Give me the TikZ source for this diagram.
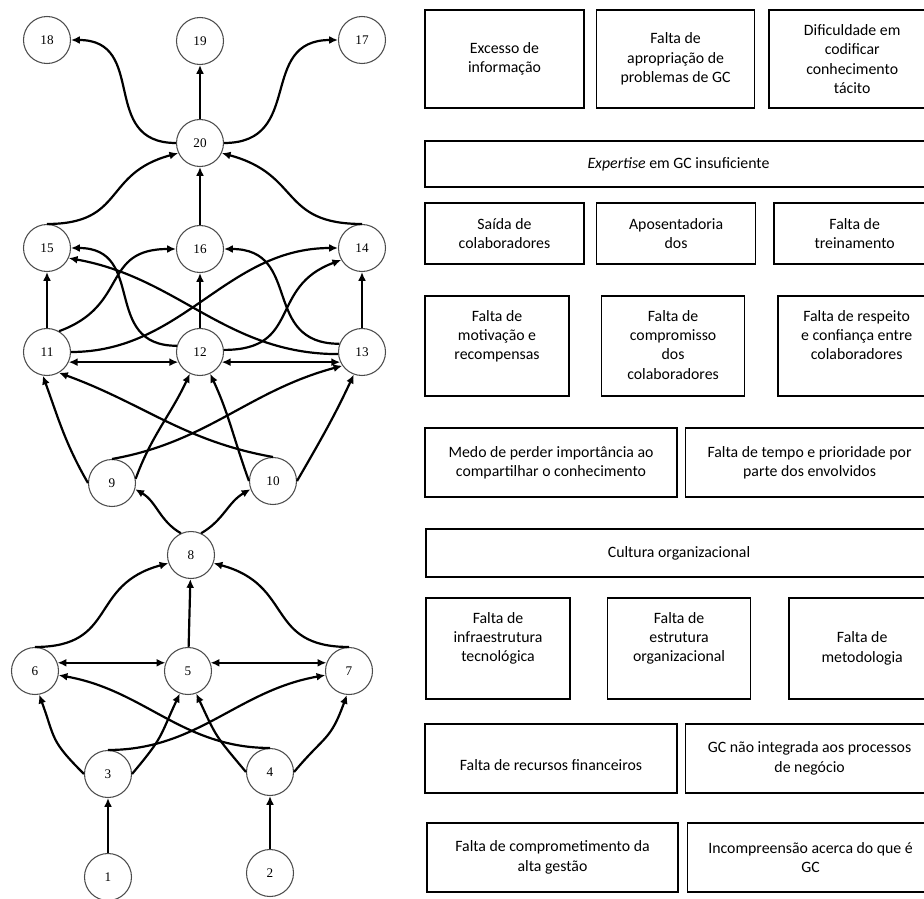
\documentclass[tikz,border=0pt]{standalone}
\usepackage{fontspec}
\setmainfont{Carlito}
\newfontfamily\numfont{Liberation Serif}
\usetikzlibrary{positioning, arrows.meta}

\begin{document}
\begin{tikzpicture}[
  numero/.style={circle, draw=black!70, line width=0.6pt, minimum size=0.94cm, inner sep=0pt, font=\numfont\fontsize{7.5}{8}\selectfont},
  seta/.style={-{Latex[length=5pt,width=4.5pt]}, line width=1.25pt},
  dupla/.style={{Latex[length=5pt,width=4.5pt]}-{Latex[length=5pt,width=4.5pt]}, line width=1.25pt},
  curva/.style={seta, looseness=1.35},
  causa/.style={draw, line width=0.9pt, align=center, inner sep=2pt, font=\fontsize{9}{11}\selectfont},
  topo/.style={label={[anchor=north, align=center, yshift=-5pt, font=\fontsize{9}{11}\selectfont]north:#1}},
  baixo/.style={label={[align=center, yshift=-4pt, font=\fontsize{9}{11}\selectfont]center:#1}}
]
\useasboundingbox (0,0) rectangle (18.48,-17.96);

% grafo
\node[numero] (n18) at (0.94,-0.80) {18};
\node[numero] (n19) at (4.00,-0.82) {19};
\node[numero] (n17) at (7.24,-0.80) {17};
\node[numero] (n20) at (4.00,-2.86) {20};
\node[numero] (n15) at (0.94,-4.96) {15};
\node[numero] (n16) at (4.00,-4.98) {16};
\node[numero] (n14) at (7.24,-4.96) {14};
\node[numero] (n11) at (0.94,-7.04) {11};
\node[numero] (n12) at (4.00,-7.04) {12};
\node[numero] (n13) at (7.24,-7.04) {13};
\node[numero] (n9) at (2.24,-9.66) {9};
\node[numero] (n10) at (5.46,-9.62) {10};
\node[numero] (n8) at (3.82,-11.10) {8};
\node[numero] (n6) at (0.70,-13.42) {6};
\node[numero] (n5) at (3.76,-13.42) {5};
\node[numero] (n7) at (6.98,-13.42) {7};
\node[numero] (n3) at (2.16,-15.48) {3};
\node[numero] (n4) at (5.40,-15.44) {4};
\node[numero] (n1) at (2.16,-17.54) {1};
\node[numero] (n2) at (5.40,-17.46) {2};

\draw[curva] (n20.west) to[out=180,in=0] (n18.east);
\draw[seta] (n20) -- (n19);
\draw[curva] (n20.east) to[out=0,in=180] (n17.west);
\draw[curva] (n15.north) to[out=0,in=195] (n20.205);
\draw[seta] (n16) -- (n20);
\draw[curva] (n14.north) to[out=180,in=-15] (n20.-25);

\draw[seta] (n11) -- (n15);
\draw[seta] (n12) -- (n16);
\draw[seta] (n13) -- (n14);
\draw[curva] (n11.60) to[out=20,in=180] (n16.west);
\draw[curva] (n12.165) to[out=180,in=0] (n15.east);
\draw[curva] (n12.5) to[out=0,in=200] (n14.210);
\draw[curva] (n13.160) to[out=180,in=0] (n16.east);
\draw[seta] (n11.east) to[out=0,in=180] (n14.west);
\draw[seta] (n13.185) to[out=180,in=-10] (n15.-25);
\draw[dupla] (n11.-25) -- (n12.205);
\draw[dupla] (n12.-25) -- (n13.205);

\draw[seta] (n9.west) to[out=120,in=-70] (n11.260);
\draw[seta] (n9.10) to[out=70,in=-115] (n12.245);
\draw[seta] (n9.north) to[out=10,in=195] (n13.215);
\draw[seta] (n10.north) to[out=170,in=-20] (n11.-60);
\draw[seta] (n10.west) to[out=110,in=-65] (n12.295);
\draw[seta] (n10.east) to[out=60,in=-115] (n13.250);

\draw[seta] (n8.115) to[out=150,in=-30] (n9.-15);
\draw[seta] (n8.65) to[out=30,in=210] (n10.200);

\draw[curva] (n6.north) to[out=0,in=195] (n8.200);
\draw[seta] (n5) -- (n8);
\draw[curva] (n7.north) to[out=180,in=-15] (n8.-20);
\draw[dupla] (n6.20) -- (n5.160);
\draw[dupla] (n5.20) -- (n7.160);

\draw[seta] (n4.north) to[out=180,in=-10] (n6.-10);
\draw[seta] (n3.north) to[out=0,in=190] (n7.190);
\draw[curva] (n3.west) to[out=135,in=-70] (n6.-80);
\draw[curva] (n3.east) to[out=50,in=-115] (n5.250);
\draw[curva] (n4.west) to[out=130,in=-65] (n5.290);
\draw[curva] (n4.east) to[out=50,in=-110] (n7.265);
\draw[seta] (n1) -- (n3);
\draw[seta] (n2) -- (n4);

% quadros
\node[causa, minimum width=3.18cm, minimum height=1.96cm] (c1a) at (10.09,-1.18) {Excesso de\\informação};
\node[causa, minimum width=3.16cm, minimum height=1.96cm, right=0.22cm of c1a] (c1b) {Falta de\\apropriação de\\problemas de GC};
\node[causa, minimum width=3.32cm, minimum height=1.96cm, right=0.26cm of c1b] (c1c) {Dificuldade em\\codificar\\conhecimento\\tácito};

\node[causa, minimum width=10.14cm, minimum height=0.92cm] (c2) at (13.57,-3.28) {\textit{Expertise} em GC insuficiente};

\node[causa, minimum width=3.18cm, minimum height=1.22cm] (c3a) at (10.09,-4.67) {Saída de\\colaboradores};
\node[causa, minimum width=3.18cm, minimum height=1.22cm, right=0.22cm of c3a] (c3b) {Aposentadoria\\dos};
\node[causa, minimum width=3.22cm, minimum height=1.22cm, right=0.34cm of c3b] (c3c) {Falta de\\treinamento};

\node[causa, minimum width=2.88cm, minimum height=2.00cm, topo={Falta de\\motivação e\\recompensas}] (c4a) at (9.94,-6.92) {};
\node[causa, minimum width=2.86cm, minimum height=2.00cm, right=0.62cm of c4a, topo={Falta de\\compromisso\\dos\\colaboradores}] (c4b) {};
\node[causa, minimum width=3.14cm, minimum height=2.00cm, right=0.64cm of c4b, topo={Falta de respeito\\e confiança entre\\colaboradores}] (c4c) {};

\node[causa, minimum width=5.04cm, minimum height=1.38cm] (c5a) at (11.02,-9.25) {Medo de perder importância ao\\compartilhar o conhecimento};
\node[causa, minimum width=4.96cm, minimum height=1.38cm, right=0.14cm of c5a] (c5b) {Falta de tempo e prioridade por\\parte dos envolvidos};

\node[causa, minimum width=10.12cm, minimum height=0.96cm] (c6) at (13.58,-11.06) {Cultura organizacional};

\node[causa, minimum width=2.88cm, minimum height=2.02cm, topo={Falta de\\infraestrutura\\tecnológica}] (c7a) at (9.96,-12.97) {};
\node[causa, minimum width=2.86cm, minimum height=2.02cm, right=0.72cm of c7a, topo={Falta de\\estrutura\\organizacional}] (c7b) {};
\node[causa, minimum width=2.92cm, minimum height=2.02cm, right=0.74cm of c7b] (c7c) {Falta de\\metodologia};

\node[causa, minimum width=5.04cm, minimum height=1.38cm, baixo={Falta de recursos financeiros}] (c8a) at (11.02,-15.17) {};
\node[causa, minimum width=4.96cm, minimum height=1.38cm, right=0.14cm of c8a] (c8b) {GC não integrada aos processos\\de negócio};

\node[causa, minimum width=5.02cm, minimum height=1.38cm] (c9a) at (11.05,-17.15) {Falta de comprometimento da\\alta gestão};
\node[causa, minimum width=4.92cm, minimum height=1.38cm, right=0.16cm of c9a] (c9b) {Incompreensão acerca do que é\\GC};

\end{tikzpicture}
\end{document}
